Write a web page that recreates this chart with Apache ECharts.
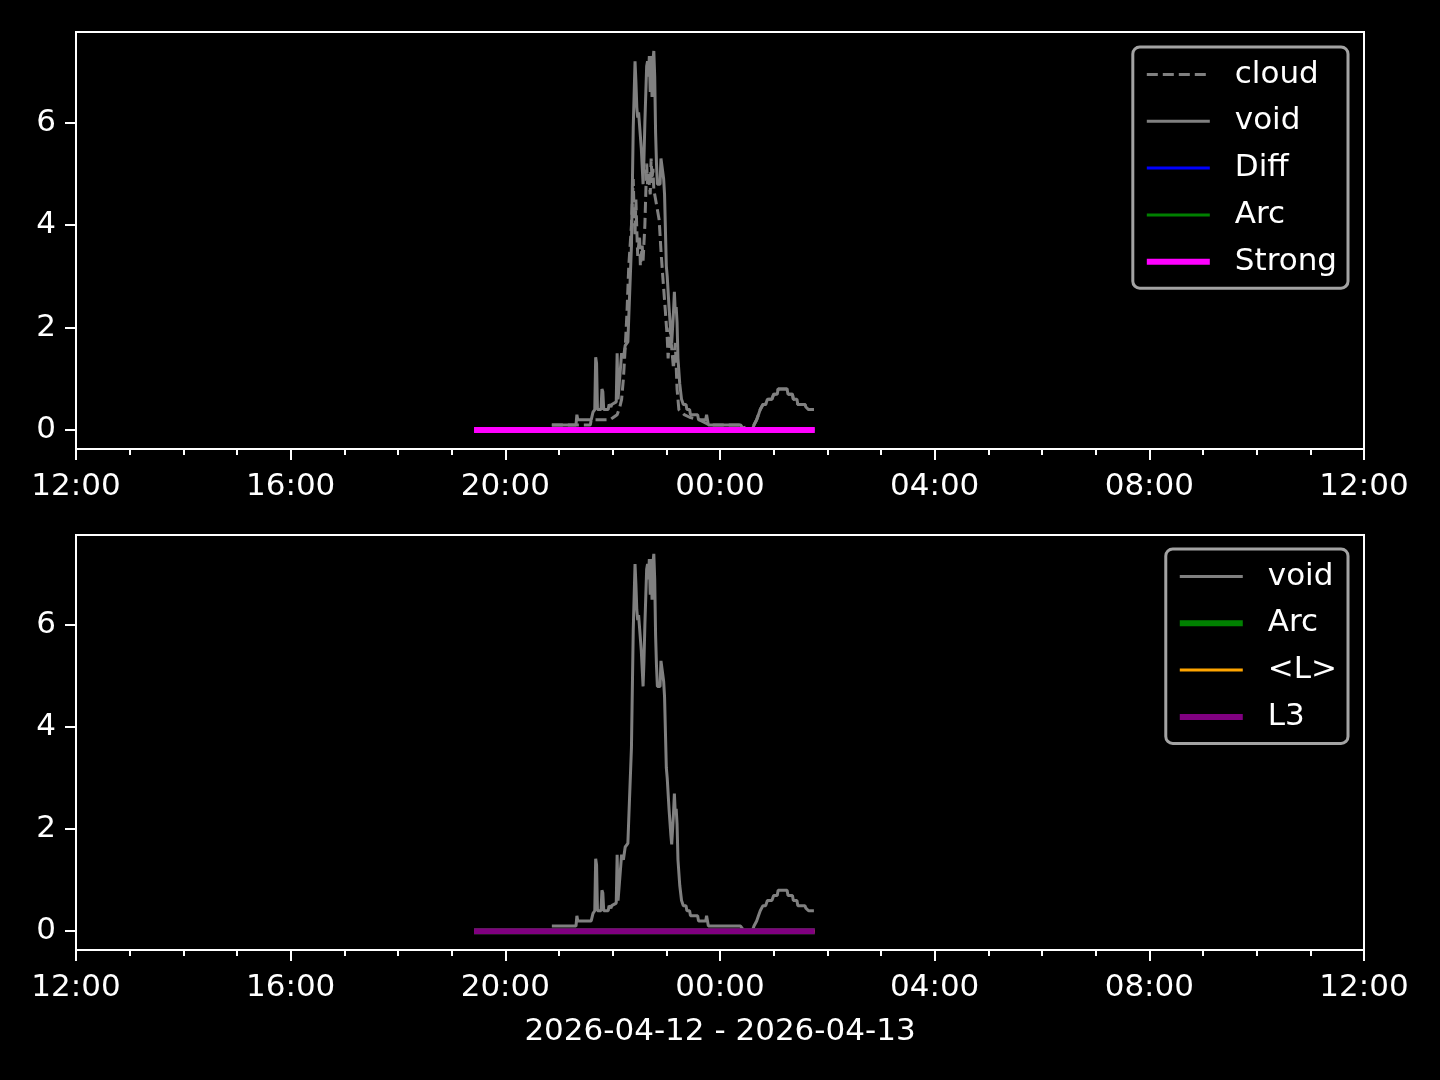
<!DOCTYPE html>
<html>
<head>
<meta charset="utf-8">
<script src="https://cdn.jsdelivr.net/npm/echarts@6/dist/echarts.min.js"></script>
<style>
html,body{margin:0;padding:0;background:#000;}
#chart{width:1440px;height:1080px;}
</style>
</head>
<body>
<div id="chart"></div>
<script>
// ---------- data ----------
const xTickLabels = ['12:00','16:00','20:00','00:00','04:00','08:00','12:00'];
const xTickTimes = ['2026-04-12 12:00','2026-04-12 16:00','2026-04-12 20:00','2026-04-13 00:00','2026-04-13 04:00','2026-04-13 08:00','2026-04-13 12:00'];
const yTicks = [0, 2, 4, 6];
const xMin = '2026-04-12 12:00';
const xMax = '2026-04-13 12:00';
const yMin = -0.37;
const yMax = 7.77;
const dateSpanLabel = '2026-04-12 - 2026-04-13';

const voidTimes = ['20:52','21:19','21:20','21:21','21:36','21:38','21:40','21:41','21:42','21:43','21:47','21:48','21:49','21:50','21:55','21:56','21:58','21:59','22:04','22:05','22:06','22:08','22:10','22:12','22:14','22:17','22:18','22:21','22:23','22:25','22:26','22:27','22:28','22:29','22:32','22:34','22:35','22:36','22:38','22:39','22:40','22:41','22:42','22:43','22:44','22:45','22:46','22:47','22:48','22:49','22:50','22:53','22:54','22:56','22:57','22:58','23:00','23:01','23:03','23:05','23:06','23:08','23:09','23:10','23:11','23:12','23:13','23:15','23:17','23:19','23:22','23:23','23:26','23:27','23:35','23:36','23:44','23:45','23:47','00:19','00:21','00:23','00:27','00:36','00:38','00:41','00:43','00:45','00:48','00:51','00:53','00:58','01:00','01:04','01:05','01:15','01:16','01:21','01:22','01:26','01:27','01:35','01:36','01:38','01:39','01:45'];
const voidValues = [0.1,0.1,0.3,0.2,0.2,0.35,0.4,1.42,1.3,0.4,0.4,0.8,0.75,0.4,0.4,0.5,0.45,0.5,0.55,1.5,0.6,0.6,1.5,1.4,1.65,1.72,2.2,3.6,5.9,7.2,6.8,6.3,6.1,6.2,5.5,4.8,5.3,6.0,7.1,7.2,6.9,7.3,6.6,7.3,6.5,7.2,7.4,6.9,5.8,5.2,4.8,4.8,5.3,5.3,4.9,4.6,3.2,3.0,2.4,1.9,1.7,2.3,2.7,2.3,2.4,2.1,1.4,0.9,0.6,0.5,0.5,0.4,0.4,0.3,0.3,0.2,0.2,0.3,0.1,0.1,0.12,0.1,0.0,0.0,0.1,0.2,0.3,0.4,0.5,0.5,0.6,0.6,0.7,0.7,0.8,0.8,0.7,0.7,0.6,0.6,0.5,0.5,0.45,0.45,0.4,0.4];

const cloudTimes = ['20:52','21:35','21:36','21:57','22:01','22:05','22:08','22:10','22:12','22:14','22:16','22:18','22:21','22:23','22:24','22:25','22:26','22:27','22:28','22:30','22:31','22:33','22:34','22:36','22:37','22:38','22:39','22:40','22:42','22:43','22:44','22:45','22:46','22:47','22:50','22:52','22:54','22:56','22:59','23:01','23:02','23:04','23:06','23:08','23:10','23:12','23:14','23:20','23:26','23:37','23:48','00:26','00:28','00:36','00:38','00:41','00:43','00:45','00:48','00:51','00:53','00:58','01:00','01:04','01:05','01:15','01:16','01:21','01:22','01:26','01:27','01:35','01:36','01:38','01:39','01:45'];
const cloudValues = [0.1,0.1,0.2,0.2,0.25,0.3,0.45,0.6,1.0,1.6,2.3,3.2,4.0,4.9,4.2,3.8,4.5,3.9,3.4,3.8,3.2,3.6,3.3,4.0,4.6,5.2,4.8,5.0,4.6,5.3,4.9,5.1,4.7,4.6,4.3,4.1,3.5,3.0,2.3,1.8,1.4,2.0,1.6,1.2,1.7,0.8,0.4,0.3,0.25,0.2,0.1,0.1,0.0,0.0,0.1,0.2,0.3,0.4,0.5,0.5,0.6,0.6,0.7,0.7,0.8,0.8,0.7,0.7,0.6,0.6,0.5,0.5,0.45,0.45,0.4,0.4];

const flatTimes = ['19:25','01:46'];
const diffValues = [0, 0];
const arcValues = [0, 0];
const strongValues = [0, 0];
const lMeanValues = [0, 0];
const l3Values = [0, 0];

// ---------- helpers ----------
const FONT = 'DejaVu Sans';
function toMs(s) { return new Date(s.replace(' ', 'T') + ':00').getTime(); }
function fullTime(hm) { return (parseInt(hm, 10) < 12 ? '2026-04-13 ' : '2026-04-12 ') + hm; }
function pairs(times, vals) { return times.map((t, i) => [toMs(fullTime(t)), vals[i]]); }
const majorMs = xTickTimes.map(toMs);
const minMs = toMs(xMin), maxMs = toMs(xMax);
const minorMs = [];
for (let t = minMs; t <= maxMs; t += 3600 * 1000) minorMs.push(t);
function fmtTime(v) {
  const i = majorMs.indexOf(v);
  return i >= 0 ? xTickLabels[i] : '';
}
const nameMap = { void2: 'void', arc2: 'Arc' };

function mainX(grid, withName) {
  const ax = {
    type: 'value', gridIndex: grid, min: minMs, max: maxMs, position: 'bottom',
    axisLine: { show: false, onZero: false }, splitLine: { show: false },
    axisTick: { show: true, customValues: majorMs, length: 11, lineStyle: { color: '#fff', width: 2 } },
    axisLabel: { customValues: majorMs, formatter: fmtTime, color: '#fff', fontSize: 31, fontFamily: FONT, margin: 22 }
  };
  if (withName) {
    ax.name = dateSpanLabel; ax.nameLocation = 'middle'; ax.nameGap = 66;
    ax.nameTextStyle = { color: '#fff', fontSize: 31, fontFamily: FONT };
  }
  return ax;
}
function minorX(grid) {
  return {
    type: 'value', gridIndex: grid, min: minMs, max: maxMs, position: 'bottom',
    axisLine: { show: false, onZero: false }, splitLine: { show: false }, axisLabel: { show: false },
    axisTick: { show: true, customValues: minorMs, length: 6, lineStyle: { color: '#fff', width: 2 } }
  };
}
function yAx(grid) {
  return {
    type: 'value', gridIndex: grid, min: yMin, max: yMax, position: 'left',
    axisLine: { show: false, onZero: false }, splitLine: { show: false },
    axisTick: { show: true, customValues: yTicks, length: 11, lineStyle: { color: '#fff', width: 2 } },
    axisLabel: { customValues: yTicks, color: '#fff', fontSize: 31, fontFamily: FONT, margin: 20, padding: [4, 0, 0, 0] }
  };
}
function line(name, xi, yi, data, color, width, dash) {
  return {
    name: name, type: 'line', xAxisIndex: xi, yAxisIndex: yi, data: data,
    symbol: 'none', showSymbol: false, animation: false, silent: true,
    lineStyle: { color: color, width: width, type: dash || 'solid' },
    itemStyle: { color: color }
  };
}
function legendItem(name, width, dash) {
  return { name: name, lineStyle: { width: width, type: dash || 'solid' } };
}
function legend(data, top) {
  return {
    data: data, orient: 'vertical', right: 92, top: top,
    padding: [12, 11, 11, 11], itemGap: 15.8, itemWidth: 63, itemHeight: 12,
    backgroundColor: '#000', borderColor: '#a3a3a3', borderWidth: 3, borderRadius: 7,
    itemStyle: { opacity: 0 },
    formatter: n => nameMap[n] || n, selectedMode: false,
    textStyle: { color: '#fff', fontSize: 31, fontFamily: FONT, lineHeight: 31, padding: [0, 0, 0, 20] }
  };
}

const chart = echarts.init(document.getElementById('chart'), null, { renderer: 'canvas' });
chart.setOption({
  backgroundColor: '#000',
  animation: false,
  grid: [
    { left: 76, right: 76, top: 32, height: 417, show: true, borderColor: '#fff', borderWidth: 2, backgroundColor: 'transparent' },
    { left: 76, right: 76, top: 535, height: 415, show: true, borderColor: '#fff', borderWidth: 2, backgroundColor: 'transparent' }
  ],
  xAxis: [mainX(0, false), minorX(0), mainX(1, true), minorX(1)],
  yAxis: [yAx(0), yAx(1)],
  legend: [
    legend([legendItem('cloud', 3, [11, 5]), legendItem('void', 3), legendItem('Diff', 3), legendItem('Arc', 3), legendItem('Strong', 6)], 47),
    legend([legendItem('void2', 3), legendItem('arc2', 6), legendItem('<L>', 3), legendItem('L3', 6)], 549)
  ],
  series: [
    line('cloud', 0, 0, pairs(cloudTimes, cloudValues), '#808080', 3, [11, 5]),
    line('void', 0, 0, pairs(voidTimes, voidValues), '#808080', 3),
    line('Diff', 0, 0, pairs(flatTimes, diffValues), '#0000ff', 3),
    line('Arc', 0, 0, pairs(flatTimes, arcValues), '#008000', 3),
    line('Strong', 0, 0, pairs(flatTimes, strongValues), '#ff00ff', 6),
    line('void2', 2, 1, pairs(voidTimes, voidValues), '#808080', 3),
    line('arc2', 2, 1, pairs(flatTimes, arcValues), '#008000', 6),
    line('<L>', 2, 1, pairs(flatTimes, lMeanValues), '#ffa500', 3),
    line('L3', 2, 1, pairs(flatTimes, l3Values), '#800080', 6)
  ]
});
</script>
</body>
</html>
